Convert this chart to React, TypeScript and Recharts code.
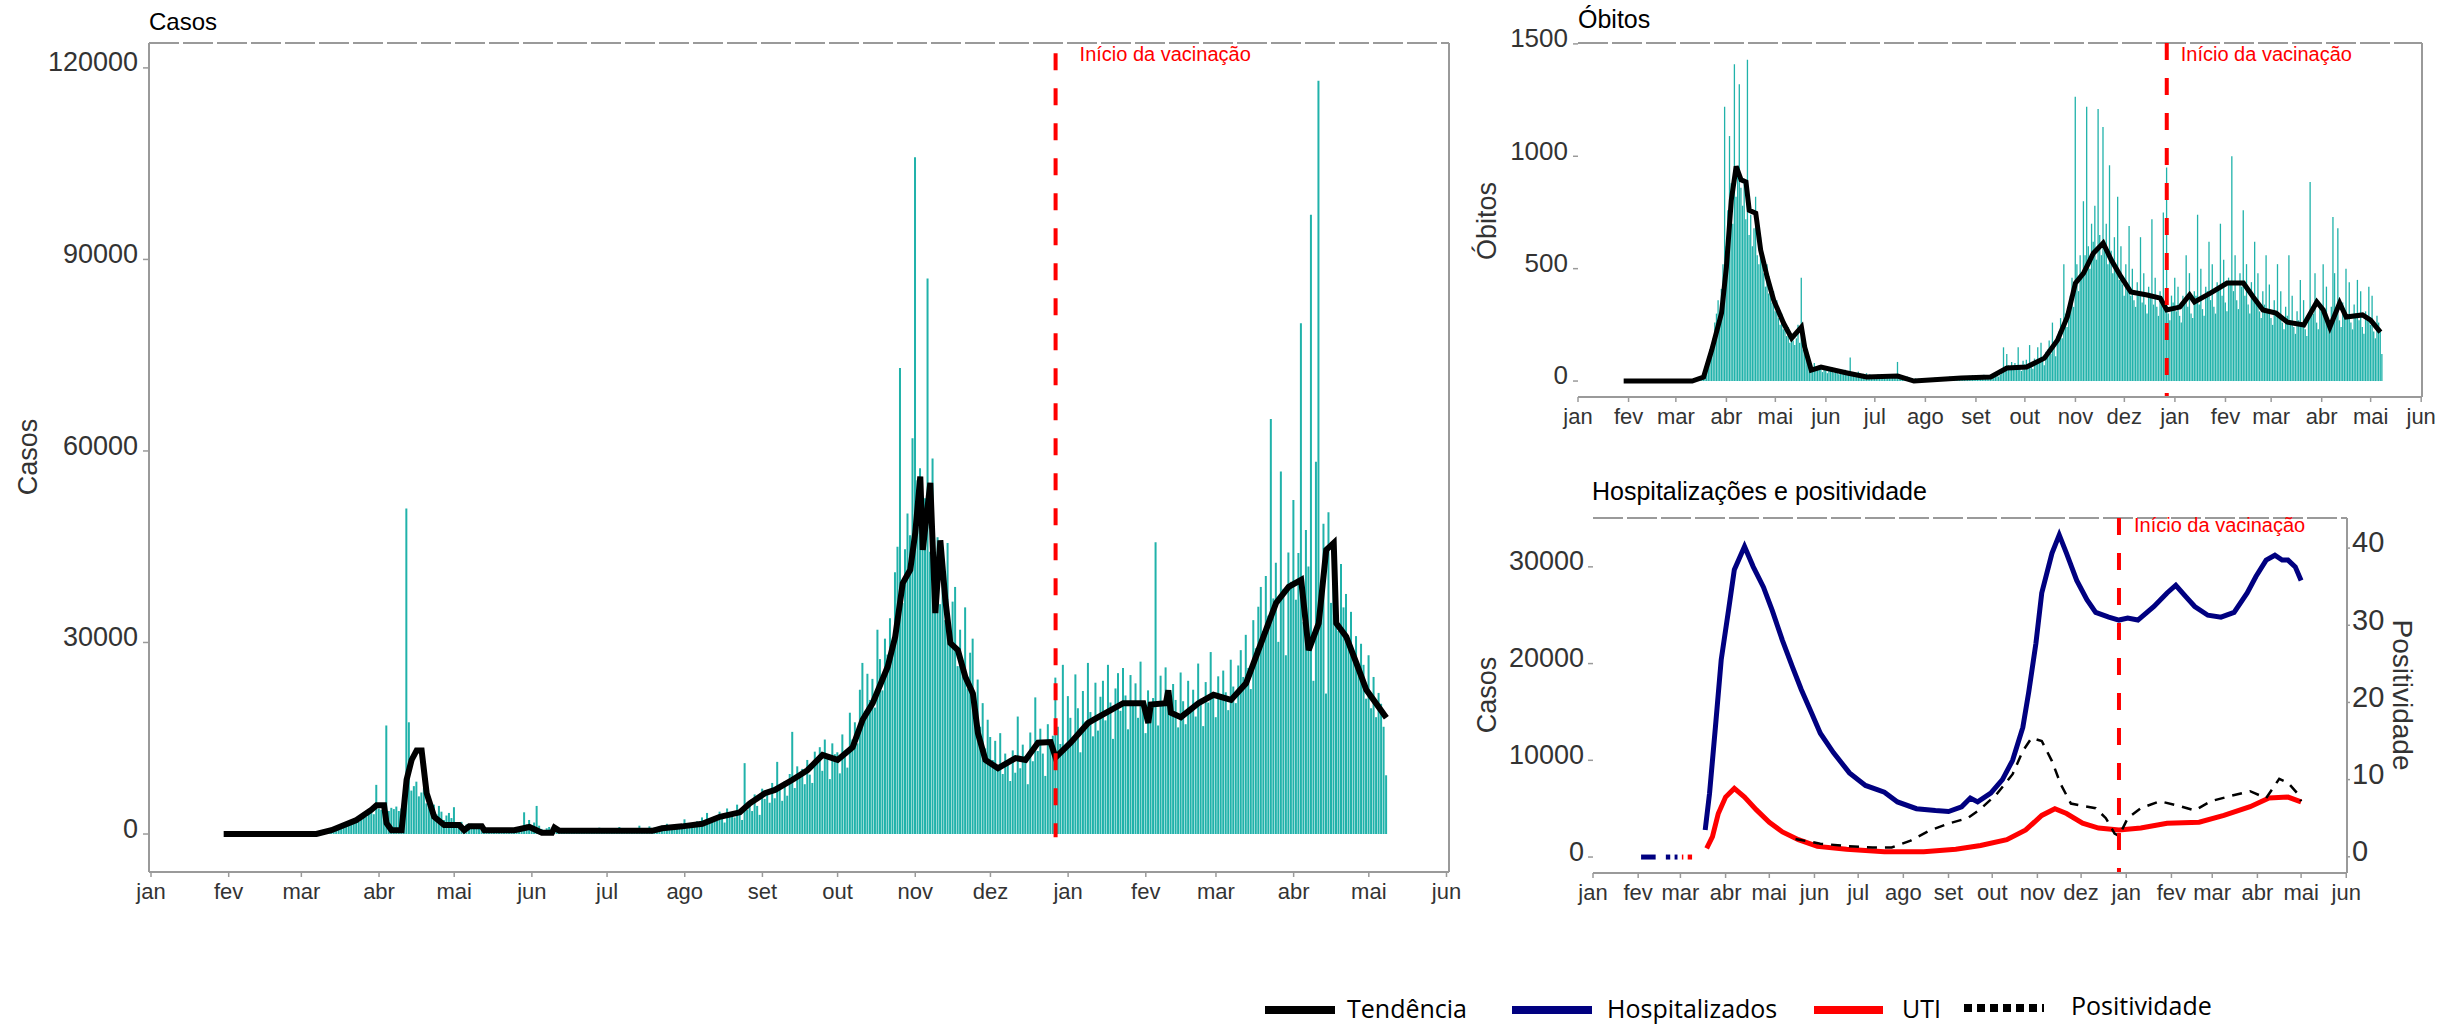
import React from 'react'
import { ComposedChart, Bar, Line, XAxis, YAxis, ReferenceLine } from 'recharts'

// days counted from 1 Jan 2020
const inicioDados = 29
const diaVacinacao = 361

const mesesDias = [0, 31, 60, 91, 121, 152, 182, 213, 244, 274, 305, 335, 366, 397, 425, 456, 486, 517]
const mesesRotulos = ['jan', 'fev', 'mar', 'abr', 'mai', 'jun', 'jul', 'ago', 'set', 'out', 'nov', 'dez', 'jan', 'fev', 'mar', 'abr', 'mai', 'jun']

const casosTicks = [0, 30000, 60000, 90000, 120000]
const obitosTicks = [0, 500, 1000, 1500]
const hospTicks = [0, 10000, 20000, 30000]
const positTicks = [0, 10, 20, 30, 40]

// daily cases in thousands, from day 29
const casosDiariosMil = [
  0, 0, 0, 0, 0, 0, 0,
  0, 0, 0, 0, 0, 0, 0,
  0, 0, 0, 0, 0, 0, 0,
  0, 0, 0, 0, 0, 0, 0,
  0, 0, 0.02, 0, 0.03, 0, 0.05,
  0.1, 0.1, 0.2, 0.2, 0.3, 0.2, 0.3,
  0.5, 0.7, 0.6, 0.9, 1.1, 0.8, 1.2,
  1.5, 1.8, 2.2, 1.6, 2.5, 1.9, 2.6,
  3.0, 2.7, 3.5, 4.2, 3.1, 7.7, 4.0,
  3.8, 4.5, 17.0, 3.6, 4.1, 3.9, 4.3,
  3.6, 4.0, 5.2, 51.0, 17.5, 6.8, 7.5,
  8.2, 5.9, 6.5, 7.2, 4.8, 5.6, 3.9,
  4.6, 3.1, 4.4, 3.5, 2.2, 2.9, 3.3,
  2.5, 4.2, 1.8, 1.4, 1.9, 1.2, 1.5,
  1.1, 1.6, 0.9, 1.3, 1.0, 0.7, 1.2,
  0.8, 0.6, 0.9, 0.7, 0.5, 0.8, 0.6,
  0.7, 0.9, 0.5, 0.6, 0.8, 0.4, 0.7,
  1.2, 3.4, 1.5, 2.2, 0.9, 1.8, 4.4,
  1.3, 0.8, 0.6, 0.9, 1.1, 0.7, 1.0,
  0.6, 0.8, 0.5, 0.7, 0.9, 0.6, 0.5,
  0.7, 0.5, 0.8, 0.6, 0.4, 0.9, 0.6,
  0.5, 0.7, 0.6, 1.0, 0.5, 0.6, 0.8,
  0.6, 0.9, 0.5, 0.7, 1.1, 0.6, 0.8,
  0.7, 0.5, 0.9, 0.6, 0.8, 1.3, 0.7,
  0.9, 0.7, 1.2, 0.8, 1.0, 0.6, 1.1,
  1.3, 0.9, 1.6, 1.1, 0.8, 1.4, 1.0,
  1.5, 1.2, 2.3, 0.9, 1.4, 1.7, 1.1,
  2.0, 1.6, 2.6, 1.4, 3.3, 1.9, 2.2,
  2.8, 2.1, 3.5, 2.4, 1.8, 4.0, 2.9,
  3.4, 2.6, 4.6, 3.1, 2.2, 11.1, 3.8,
  4.9, 3.6, 6.2, 4.4, 3.0, 7.1, 5.5,
  6.8, 4.9, 8.0, 5.6, 11.3, 7.4, 5.2,
  8.3, 6.0, 9.4, 16.0, 7.2, 10.6, 8.9,
  10.2, 7.8, 11.6, 9.3, 8.0, 12.9, 11.4,
  13.6, 9.9, 14.8, 11.8, 8.6, 14.2, 12.5,
  12.8, 9.5, 15.6, 13.0, 10.4, 19.0, 14.8,
  17.5, 14.2, 22.6, 26.8, 19.3, 25.1, 21.0,
  24.3, 19.8, 32.0, 27.4, 22.5, 30.6, 28.1,
  33.8, 29.5, 41.0, 45.0, 73.0, 36.2, 44.6,
  50.2, 46.8, 62.0, 106.0, 55.4, 57.3, 48.9,
  52.6, 87.0, 44.2, 58.8, 40.1, 46.5, 36.0,
  41.8, 33.5, 45.6, 30.2, 36.4, 38.7, 26.3,
  32.0, 27.1, 35.5, 22.8, 28.4, 30.6, 19.5,
  24.2, 16.8, 20.5, 13.4, 17.9, 15.2, 11.6,
  14.6, 10.2, 15.8, 9.4, 12.6, 11.1, 8.3,
  13.1, 9.6, 18.4, 10.3, 14.0, 12.2, 7.8,
  15.9, 11.4, 21.4, 13.0, 16.5, 12.6, 9.1,
  17.2, 13.5, 15.4, 24.5, 16.8, 14.1, 26.5,
  13.9, 21.6, 18.2, 14.5, 25.0, 19.7, 12.8,
  22.4, 17.6, 26.8, 19.1, 15.3, 23.7, 16.2,
  21.5, 24.0, 17.8, 26.5, 20.6, 14.9, 22.8,
  25.2, 19.3, 26.0, 21.7, 16.4, 24.9, 20.1,
  23.6, 18.2, 27.0, 20.4, 15.8, 22.5, 19.6,
  21.3, 45.7, 17.0, 24.8, 20.2, 26.1, 22.4,
  18.9, 23.5, 21.0, 16.7, 25.3, 20.8, 17.2,
  24.0, 19.5, 22.6, 18.4, 26.7, 21.2, 16.9,
  23.8, 20.6, 28.5, 22.0, 18.3, 24.7, 21.5,
  25.6, 22.2, 19.4, 27.3, 23.1, 20.5, 26.4,
  28.8, 24.6, 31.2, 26.0, 22.7, 33.5, 29.1,
  35.6, 38.7, 31.8, 40.4, 34.2, 65.0, 36.9,
  42.5, 30.1, 56.8, 38.4, 28.0, 44.1, 39.5,
  52.3, 36.7, 44.0, 80.0, 33.2, 47.6, 41.9,
  97.0, 24.0, 58.3, 118.0, 35.1, 48.6, 22.0,
  50.4, 36.2, 44.5, 39.0, 31.8, 42.3, 35.5,
  37.6, 29.4, 34.8, 27.9, 31.0, 25.6, 29.8,
  26.5, 21.2, 28.0, 19.7, 24.6, 18.3, 22.1,
  20.4, 16.8, 9.2,
]

const casosTendDias = [29, 66, 72, 82, 88, 90, 93, 94, 96, 100, 102, 104, 106, 108, 110, 113, 117, 123, 125, 127, 132, 133, 145, 151, 156, 160, 161, 163, 200, 204, 212, 220, 227, 235, 239, 245, 249, 256, 262, 268, 274, 280, 284, 288, 294, 297, 300, 303, 305, 307, 308, 311, 313, 315, 317, 319, 322, 325, 328, 330, 333, 338, 345, 349, 354, 359, 361, 367, 374, 378, 388, 396, 398, 399, 405, 406, 407, 411, 418, 424, 431, 437, 443, 449, 454, 459, 462, 466, 469, 472, 473, 477, 481, 485, 493]
const casosTendMil = [0, 0, 0.6, 2.2, 3.8, 4.5, 4.5, 1.7, 0.6, 0.6, 8.5, 11.6, 13.1, 13.1, 6.4, 2.7, 1.4, 1.4, 0.6, 1.2, 1.2, 0.6, 0.6, 1.1, 0.2, 0.2, 1.0, 0.5, 0.5, 0.9, 1.2, 1.6, 2.7, 3.4, 4.8, 6.4, 6.9, 8.5, 10.0, 12.4, 11.6, 13.6, 17.9, 20.5, 26.2, 30.9, 39.3, 41.4, 47.2, 56.0, 44.5, 55.0, 34.6, 46.0, 36.7, 29.9, 28.8, 24.6, 22.0, 15.8, 11.6, 10.3, 11.9, 11.6, 14.3, 14.4, 12.0, 14.3, 17.4, 18.3, 20.5, 20.5, 17.4, 20.3, 20.5, 22.5, 19.0, 18.3, 20.5, 21.8, 21.0, 23.6, 29.9, 36.2, 38.7, 39.8, 28.8, 33.0, 44.5, 45.6, 33.0, 30.9, 26.8, 22.6, 18.2]

// daily deaths, from day 29
const obitosDiarios = [
  0, 0, 0, 0, 0, 0, 0,
  0, 0, 0, 0, 0, 0, 0,
  0, 0, 0, 0, 0, 0, 0,
  0, 0, 0, 0, 0, 0, 0,
  0, 0, 0, 0, 0, 0, 0,
  0, 1, 0, 2, 1, 3, 2,
  2, 3, 5, 8, 6, 12, 15,
  20, 40, 70, 110, 150, 190, 260,
  300, 360, 280, 410, 520, 1220, 600,
  760, 1090, 880, 700, 1410, 820, 940,
  1320, 860, 780, 900, 720, 1430, 650,
  740, 600, 680, 820, 560, 520, 640,
  560, 480, 420, 520, 390, 440, 350,
  400, 310, 360, 280, 250, 300, 230,
  260, 200, 240, 170, 210, 180, 160,
  190, 250, 170, 460, 140, 120, 160,
  110, 90, 70, 60, 80, 50, 65,
  70, 55, 40, 60, 48, 35, 52,
  45, 60, 38, 50, 42, 30, 46,
  40, 32, 50, 28, 36, 105, 30,
  38, 30, 26, 42, 34, 25, 32,
  28, 35, 22, 30, 26, 20, 27,
  24, 30, 20, 26, 22, 18, 25,
  22, 18, 25, 20, 16, 24, 85,
  20, 15, 22, 18, 12, 20, 17,
  10, 14, 8, 12, 6, 10, 9,
  8, 12, 10, 14, 9, 11, 13,
  12, 16, 10, 14, 18, 11, 15,
  14, 18, 12, 20, 16, 13, 19,
  15, 20, 14, 22, 17, 12, 21,
  18, 24, 16, 26, 20, 14, 22,
  20, 26, 18, 28, 22, 15, 24,
  24, 30, 22, 34, 26, 20, 28,
  40, 150, 55, 120, 70, 50, 85,
  60, 80, 55, 150, 70, 45, 90,
  75, 95, 60, 160, 80, 55, 100,
  90, 150, 80, 170, 100, 70, 130,
  140, 180, 120, 260, 170, 110, 200,
  220, 280, 190, 520, 300, 240, 340,
  380, 460, 330, 1265, 520, 400, 560,
  480, 800, 560, 1220, 600, 500, 700,
  620, 780, 540, 1210, 650, 560, 1130,
  600, 700, 520, 960, 580, 480, 640,
  500, 820, 450, 600, 430, 380, 520,
  420, 690, 380, 500, 360, 330, 440,
  400, 640, 350, 480, 340, 300, 420,
  380, 720, 340, 460, 330, 290, 400,
  370, 750, 320, 950, 300, 270, 380,
  350, 460, 310, 420, 290, 260, 380,
  370, 560, 330, 480, 300, 280, 400,
  380, 740, 340, 500, 320, 290, 420,
  400, 620, 360, 520, 330, 300, 440,
  410, 700, 380, 540, 350, 310, 460,
  430, 1000, 400, 560, 360, 320, 480,
  420, 760, 380, 520, 340, 300, 440,
  380, 620, 350, 480, 310, 280, 400,
  340, 560, 310, 430, 280, 250, 360,
  310, 520, 290, 400, 260, 230, 330,
  290, 560, 270, 380, 240, 210, 310,
  270, 450, 250, 360, 230, 200, 300,
  886, 330, 300, 480, 260, 230, 340,
  310, 520, 280, 420, 250, 220, 330,
  730, 480, 300, 680, 270, 240, 350,
  320, 500, 290, 440, 260, 230, 340,
  300, 450, 270, 400, 240, 210, 310,
  280, 420, 250, 380, 220, 190, 290,
  260, 230, 120,
]

const obitosTendDias = [28, 70, 77, 82, 88, 91, 94, 97, 100, 103, 105, 109, 112, 116, 120, 126, 131, 137, 139, 143, 149, 165, 177, 196, 206, 235, 253, 263, 275, 286, 294, 300, 305, 310, 316, 322, 327, 333, 339, 349, 357, 361, 369, 375, 378, 388, 398, 408, 414, 420, 428, 435, 445, 453, 457, 461, 467, 471, 481, 486, 492]
const obitosTend = [0, 0, 18, 138, 302, 507, 805, 955, 895, 886, 760, 747, 583, 463, 360, 258, 191, 240, 151, 49, 62, 36, 18, 22, 0, 13, 18, 58, 62, 102, 182, 285, 436, 480, 569, 614, 538, 463, 396, 383, 369, 316, 329, 383, 352, 392, 436, 436, 374, 316, 302, 262, 249, 352, 316, 240, 347, 285, 294, 271, 218]

const hospDias = [77, 80, 84, 88, 93, 97, 104, 110, 117, 123, 130, 137, 143, 150, 156, 165, 176, 187, 200, 209, 222, 235, 244, 253, 259, 264, 273, 281, 288, 295, 299, 304, 308, 315, 320, 325, 332, 339, 345, 354, 361, 367, 374, 385, 394, 400, 407, 413, 422, 431, 440, 449, 455, 462, 468, 473, 477, 482, 486]
const hospValores = [2800, 6600, 13400, 20400, 25500, 29700, 32100, 30000, 27900, 25500, 22400, 19600, 17300, 14900, 12800, 10800, 8700, 7400, 6700, 5700, 5000, 4800, 4700, 5200, 6100, 5700, 6600, 8000, 10000, 13400, 17000, 22100, 27300, 31400, 33300, 31400, 28600, 26600, 25300, 24800, 24500, 24700, 24500, 25900, 27300, 28100, 26900, 25900, 25000, 24800, 25300, 27300, 29000, 30700, 31200, 30700, 30700, 30000, 28600]

const utiDias = [78, 82, 86, 91, 97, 104, 112, 121, 130, 141, 154, 174, 200, 227, 249, 266, 284, 297, 308, 317, 325, 336, 347, 361, 376, 394, 416, 433, 451, 464, 477, 486]
const utiValores = [900, 2100, 4500, 6200, 7100, 6200, 4900, 3600, 2600, 1800, 1100, 800, 550, 550, 800, 1200, 1800, 2800, 4300, 5000, 4500, 3500, 3000, 2800, 3000, 3500, 3600, 4300, 5200, 6100, 6200, 5700]

const positDias = [139, 156, 174, 192, 205, 218, 231, 244, 257, 266, 277, 288, 295, 301, 308, 315, 321, 328, 336, 345, 352, 358, 361, 367, 376, 389, 402, 413, 424, 438, 451, 462, 471, 477, 484, 486]
const positValores = [2.3, 1.7, 1.4, 1.2, 1.2, 2.1, 3.4, 4.3, 5.0, 6.2, 8.1, 10.7, 13.7, 15.4, 15.0, 12.4, 9.4, 6.9, 6.6, 6.3, 5.0, 3.0, 2.7, 5.0, 6.3, 7.2, 6.6, 6.0, 7.2, 7.9, 8.5, 7.6, 10.1, 9.6, 8.1, 7.2]

// short stretches of zero reports before the series begin
const hospZeroTrechos = [[33, 43], [50, 53], [56, 58]]
const utiZeroTrechos = [[61, 62], [65, 68]]

const casosDominio = [-5950, 123900]
const obitosDominio = [-71, 1504]
const hospDominio = [-1650, 35050]
const positDominio = [-2.1, 43.9]

const casosDados = casosDiariosMil.map((v, i) => ({ dia: inicioDados + i, casos: v * 1000 }))
const casosTend = casosTendDias.map((d, i) => ({ dia: d, tend: casosTendMil[i] * 1000 }))
const obitosDados = obitosDiarios.map((v, i) => ({ dia: inicioDados + i, obitos: v }))
const obitosTendDados = obitosTendDias.map((d, i) => ({ dia: d, tend: obitosTend[i] }))
const hospDados = hospDias.map((d, i) => ({ dia: d, v: hospValores[i] }))
const utiDados = utiDias.map((d, i) => ({ dia: d, v: utiValores[i] }))
const positDados = positDias.map((d, i) => ({ dia: d, v: positValores[i] }))

const fonte = "'Liberation Sans', Arial, Helvetica, sans-serif"
const cinza = '#9a9a9a'
const teal = '#20B2AA'
const vermelho = '#FF0000'
const texto = '#333333'

const TickX = (props: any) => {
  const { x, y, payload } = props
  const i = mesesDias.indexOf(payload.value)
  return (
    <text x={x} y={y + 22} textAnchor="middle" fontSize={22} fill={texto} fontFamily={fonte}>
      {mesesRotulos[i]}
    </text>
  )
}

const makeTickY = (size: number, anchor: 'start' | 'end') => (props: any) => {
  const { x, y, payload } = props
  return (
    <text x={x} y={y - 6} dy="0.355em" textAnchor={anchor} fontSize={size} fill={texto} fontFamily={fonte}>
      {payload.value}
    </text>
  )
}

const VacLabel = (props: any) => {
  const vb = props.viewBox || {}
  return (
    <text x={(vb.x || 0) + props.dx} y={(vb.y || 0) + props.dy} fontSize={20} fill={vermelho} fontFamily={fonte}>
      Início da vacinação
    </text>
  )
}

const xAxisProps = {
  dataKey: 'dia',
  type: 'number' as const,
  ticks: mesesDias,
  interval: 0 as const,
  tick: TickX,
  tickSize: 5,
  tickMargin: 0,
  height: 50,
  allowDataOverflow: true,
  axisLine: { stroke: cinza, strokeWidth: 2 },
  tickLine: { stroke: cinza, strokeWidth: 1.5 },
}

export default function App() {
  return (
    <div style={{ position: 'absolute', left: 0, top: 0, width: 2453, height: 1024, background: '#fff', overflow: 'hidden' }}>
      {/* Casos */}
      <div style={{ position: 'absolute', left: 0, top: 0 }}>
        <ComposedChart width={1479} height={927} data={casosDados} margin={{ top: 43, right: 30, bottom: 5, left: 0 }}>
          <XAxis {...xAxisProps} domain={[-0.8, 518]} />
          <YAxis
            type="number"
            domain={casosDominio}
            allowDataOverflow
            ticks={casosTicks}
            interval={0}
            width={149}
            tickSize={6}
            tickMargin={5}
            tick={makeTickY(27, 'end')}
            axisLine={{ stroke: cinza, strokeWidth: 2 }}
            tickLine={{ stroke: cinza, strokeWidth: 1.5 }}
          />
          <ReferenceLine y={casosDominio[1]} stroke={cinza} strokeWidth={2} strokeDasharray="30 4" ifOverflow="visible" />
          <ReferenceLine x={518} stroke={cinza} strokeWidth={2} ifOverflow="visible" />
          <Bar dataKey="casos" fill={teal} barSize={2} isAnimationActive={false} />
          <Line data={casosTend} dataKey="tend" stroke="#000" strokeWidth={6} dot={false} isAnimationActive={false} />
          <ReferenceLine
            segment={[{ x: diaVacinacao, y: 122300 }, { x: diaVacinacao, y: -500 }]}
            stroke={vermelho}
            strokeWidth={4}
            strokeDasharray="17 18"
            ifOverflow="visible"
            label={<VacLabel dx={24} dy={8} />}
          />
        </ComposedChart>
      </div>

      {/* Óbitos */}
      <div style={{ position: 'absolute', left: 1460, top: 0 }}>
        <ComposedChart width={992} height={452} data={obitosDados} margin={{ top: 43, right: 30, bottom: 5, left: 0 }}>
          <XAxis {...xAxisProps} domain={[0, 517.5]} />
          <YAxis
            type="number"
            domain={obitosDominio}
            allowDataOverflow
            ticks={obitosTicks}
            interval={0}
            width={118}
            tickSize={5}
            tickMargin={5}
            tick={makeTickY(26, 'end')}
            axisLine={false}
            tickLine={{ stroke: cinza, strokeWidth: 1.5 }}
          />
          <ReferenceLine y={obitosDominio[1]} stroke={cinza} strokeWidth={2} strokeDasharray="30 4" ifOverflow="visible" />
          <ReferenceLine x={517.5} stroke={cinza} strokeWidth={2} ifOverflow="visible" />
          <Bar dataKey="obitos" fill={teal} barSize={1.3} isAnimationActive={false} />
          <Line data={obitosTendDados} dataKey="tend" stroke="#000" strokeWidth={5} dot={false} isAnimationActive={false} />
          <ReferenceLine
            segment={[{ x: diaVacinacao, y: obitosDominio[1] }, { x: diaVacinacao, y: obitosDominio[0] }]}
            stroke={vermelho}
            strokeWidth={4}
            strokeDasharray="17 18"
            ifOverflow="visible"
            label={<VacLabel dx={14} dy={18} />}
          />
        </ComposedChart>
      </div>

      {/* Hospitalizações e positividade */}
      <div style={{ position: 'absolute', left: 1460, top: 460 }}>
        <ComposedChart width={967} height={468} margin={{ top: 58, right: 0, bottom: 5, left: 0 }}>
          <XAxis {...xAxisProps} domain={[0, 517.5]} />
          <YAxis
            yAxisId="esq"
            type="number"
            domain={hospDominio}
            allowDataOverflow
            ticks={hospTicks}
            interval={0}
            width={133}
            tickSize={5}
            tickMargin={4}
            tick={makeTickY(27, 'end')}
            axisLine={false}
            tickLine={{ stroke: cinza, strokeWidth: 1.5 }}
          />
          <YAxis
            yAxisId="dir"
            orientation="right"
            type="number"
            domain={positDominio}
            allowDataOverflow
            ticks={positTicks}
            interval={0}
            width={80}
            tickSize={3}
            tickMargin={2}
            tick={makeTickY(29, 'start')}
            axisLine={{ stroke: cinza, strokeWidth: 2 }}
            tickLine={{ stroke: cinza, strokeWidth: 1.5 }}
          />
          <ReferenceLine yAxisId="esq" y={hospDominio[1]} stroke={cinza} strokeWidth={2} strokeDasharray="30 4" ifOverflow="visible" />
          {hospZeroTrechos.map((t, i) => (
            <Line key={'hz' + i} yAxisId="esq" data={[{ dia: t[0], v: 0 }, { dia: t[1], v: 0 }]} dataKey="v" stroke="#000080" strokeWidth={5} dot={false} isAnimationActive={false} />
          ))}
          {utiZeroTrechos.map((t, i) => (
            <Line key={'uz' + i} yAxisId="esq" data={[{ dia: t[0], v: 0 }, { dia: t[1], v: 0 }]} dataKey="v" stroke={vermelho} strokeWidth={5} dot={false} isAnimationActive={false} />
          ))}
          <Line yAxisId="esq" data={hospDados} dataKey="v" stroke="#000080" strokeWidth={5} dot={false} isAnimationActive={false} />
          <Line yAxisId="esq" data={utiDados} dataKey="v" stroke={vermelho} strokeWidth={5} dot={false} isAnimationActive={false} />
          <Line yAxisId="dir" data={positDados} dataKey="v" stroke="#000" strokeWidth={2.5} strokeDasharray="10 8" dot={false} isAnimationActive={false} />
          <ReferenceLine
            yAxisId="esq"
            segment={[{ x: diaVacinacao, y: hospDominio[1] }, { x: diaVacinacao, y: hospDominio[0] }]}
            stroke={vermelho}
            strokeWidth={4}
            strokeDasharray="17 18"
            ifOverflow="visible"
            label={<VacLabel dx={15} dy={14} />}
          />
        </ComposedChart>
      </div>

      {/* titles, axis titles and legend */}
      <svg width={2453} height={1024} style={{ position: 'absolute', left: 0, top: 0, pointerEvents: 'none' }}>
        <g fontFamily={fonte}>
          <text x={149} y={30} fontSize={24} fill="#000">Casos</text>
          <text x={1578} y={28} fontSize={25} fill="#000">Óbitos</text>
          <text x={1592} y={500} fontSize={25} fill="#000">Hospitalizações e positividade</text>
          <text transform="translate(37,457) rotate(-90)" textAnchor="middle" fontSize={27} fill={texto}>Casos</text>
          <text transform="translate(1496,221) rotate(-90)" textAnchor="middle" fontSize={27} fill={texto}>Óbitos</text>
          <text transform="translate(1496,695) rotate(-90)" textAnchor="middle" fontSize={27} fill={texto}>Casos</text>
          <text transform="translate(2393,695) rotate(90)" textAnchor="middle" fontSize={28} fill={texto}>Positividade</text>
        </g>
        <g fontFamily="'Open Sans', 'Noto Sans', sans-serif" fontSize={25} fill="#000">
          <line x1={1265} y1={1010} x2={1335} y2={1010} stroke="#000" strokeWidth={8} />
          <text x={1347} y={1018}>Tendência</text>
          <line x1={1512} y1={1010} x2={1592} y2={1010} stroke="#000080" strokeWidth={8} />
          <text x={1607} y={1018}>Hospitalizados</text>
          <line x1={1814} y1={1010} x2={1883} y2={1010} stroke={vermelho} strokeWidth={8} />
          <text x={1902} y={1018}>UTI</text>
          <line x1={1964} y1={1008} x2={2044} y2={1008} stroke="#000" strokeWidth={8} strokeDasharray="8 5" />
          <text x={2071} y={1015}>Positividade</text>
        </g>
      </svg>
    </div>
  )
}
